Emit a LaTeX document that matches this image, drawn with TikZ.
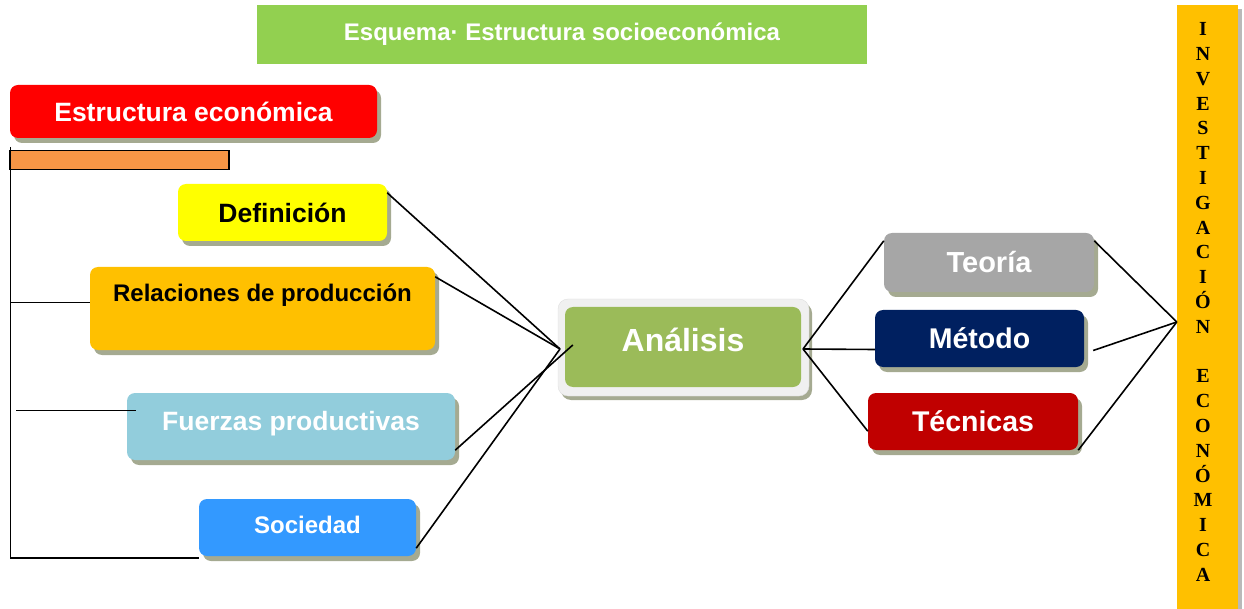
\documentclass[tikz,border=0pt]{standalone}
\usepackage{fontspec}
\setmainfont{Liberation Sans}
\newfontfamily\serifb{Liberation Serif}
\usetikzlibrary{shadows}
\definecolor{shad}{RGB}{165,170,145}
\definecolor{titlegreen}{RGB}{146,208,80}
\definecolor{orng}{RGB}{247,150,70}
\definecolor{gold}{RGB}{255,192,0}
\definecolor{lblue}{RGB}{146,205,220}
\definecolor{sblue}{RGB}{51,153,255}
\definecolor{olive}{RGB}{155,187,89}
\definecolor{outgray}{RGB}{240,240,240}
\definecolor{tgray}{RGB}{166,166,166}
\definecolor{navy}{RGB}{0,32,96}
\definecolor{dred}{RGB}{192,0,0}
\definecolor{pureyellow}{RGB}{255,255,0}
\begin{document}
\begin{tikzpicture}[x=1pt,y=-1pt,
  box/.style={rounded corners=8pt, inner sep=0pt, font=\bfseries\fontsize{26.5}{30}\selectfont,
    drop shadow={shadow xshift=4pt, shadow yshift=-5pt, fill=shad, opacity=1}},
  conn/.style={line width=1.6pt, black}]
\useasboundingbox (0,0) rectangle (1244,609);

% title
\node[fill=titlegreen, minimum width=610pt, minimum height=59pt, inner sep=0pt,
  text=white, font=\bfseries\fontsize{24}{28}\selectfont] (title) at (562,34.5) {Esquema· Estructura socioeconómica};

% left side
\node[box, fill=red, text=white, minimum width=367pt, minimum height=53pt] (est) at (193.5,111.5) {Estructura económica};
\node[draw=black, line width=1.2pt, fill=orng, minimum width=219pt, minimum height=19pt, inner sep=0pt] (ob) at (119.5,160) {};
\node[box, fill=pureyellow, text=black, minimum width=209pt, minimum height=57pt] (def) at (282.5,212.5) {Definición};
\node[box, fill=gold, text=black, minimum width=345pt, minimum height=83pt,
  font=\bfseries\fontsize{24}{28}\selectfont, text height=18pt, text depth=32pt] (rel) at (262.5,308.5) {Relaciones de producción};
\node[box, fill=lblue, text=white, minimum width=328pt, minimum height=67pt,
  text height=19pt, text depth=12pt] (fue) at (291,426.5) {Fuerzas productivas};
\node[box, fill=sblue, text=white, minimum width=217pt, minimum height=57pt,
  font=\bfseries\fontsize{24}{28}\selectfont, text height=18pt, text depth=6pt] (soc) at (307.5,527.5) {Sociedad};

% center
\node[rounded corners=10pt, fill=outgray, draw=gray!25, minimum width=251pt, minimum height=97pt, inner sep=0pt,
  drop shadow={shadow xshift=3pt, shadow yshift=-4pt, fill=shad, opacity=1}] (anaout) at (683.5,347.5) {};
\node[rounded corners=8pt, fill=olive, text=white, minimum width=236pt, minimum height=80pt, inner sep=0pt,
  font=\bfseries\fontsize{32}{36}\selectfont, text height=23pt, text depth=15pt] (ana) at (683,347) {Análisis};

% right group
\node[box, fill=tgray, text=white, minimum width=210pt, minimum height=59pt, font=\bfseries\fontsize{29}{32}\selectfont] (teo) at (989,262.5) {Teoría};
\node[box, fill=navy, text=white, minimum width=209pt, minimum height=57pt, font=\bfseries\fontsize{28.5}{32}\selectfont] (met) at (979.5,338.5) {Método};
\node[box, fill=dred, text=white, minimum width=210pt, minimum height=57pt, font=\bfseries\fontsize{28.5}{32}\selectfont] (tec) at (973,421.5) {Técnicas};

% right bar
\node[fill=gold, minimum width=61pt, minimum height=608pt, inner sep=0pt,
  drop shadow={shadow xshift=4pt, shadow yshift=-4pt, fill=gray!55, opacity=1}] (bar) at (1207.5,309) {};
\node[font=\serifb\bfseries\fontsize{20}{24.8}\selectfont, align=center, inner sep=0pt] (bartxt) at (1203,302)
  {I\\N\\V\\E\\S\\T\\I\\G\\A\\C\\I\\Ó\\N\\[24.8pt]E\\C\\O\\N\\Ó\\M\\I\\C\\A};

% junctions
\coordinate (jl) at (560,349);
\coordinate (jr) at (803,349);
\coordinate (jb) at ([yshift=-13pt]bar.west);

% left bracket
\draw[conn] ([xshift=1pt,yshift=3pt]ob.north west) |- ([yshift=-2pt]soc.south west);
\draw[conn] ([yshift=6pt]rel.west) -- ++(-79,0);
\draw[conn] ([xshift=9pt,yshift=16pt]fue.west) -- ++(-120,0);

% to Analisis
\draw[conn] ([yshift=-9pt]def.north east) -- (jl);
\draw[conn] ([yshift=-10pt]rel.north east) -- (jl);
\draw[conn] ([yshift=10pt]fue.south east) -- ([xshift=8pt,yshift=2pt]ana.west);
\draw[conn] ([yshift=8pt]soc.south east) -- (jl);

% from Analisis
\draw[conn] (jr) -- ([yshift=-8pt]teo.north west);
\draw[conn] (jr) -- ([yshift=-11pt]met.west);
\draw[conn] (jr) -- ([yshift=19pt]tec.south west);

% to bar
\draw[conn] ([yshift=-8pt]teo.north east) -- (jb);
\draw[conn] ([xshift=9pt,yshift=-12pt]met.east) -- (jb);
\draw[conn] (tec.south east) -- (jb);
\end{tikzpicture}
\end{document}
